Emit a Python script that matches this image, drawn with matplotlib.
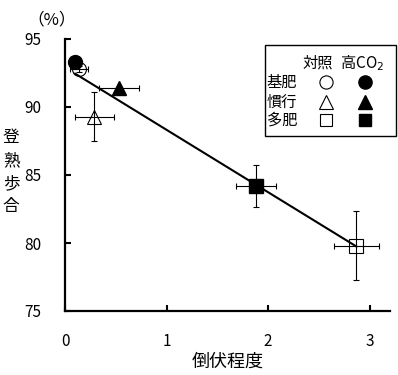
import matplotlib
matplotlib.use("Agg")
import matplotlib.lines
import matplotlib.patches
import matplotlib.pyplot as plt
import numpy as np

plt.rcParams["font.family"] = ["Noto Sans CJK JP", "DejaVu Sans"]

# lodging score (x) vs ripening ratio (y), mean +- error
groups = ["基肥", "慣行", "多肥"]
ctrl_x = [0.14, 0.29, 2.87]
ctrl_y = [92.8, 89.3, 79.8]
ctrl_xerr = [0.09, 0.19, 0.22]
ctrl_yerr = [0.25, 1.8, 2.55]
co2_x = [0.10, 0.53, 1.88]
co2_y = [93.3, 91.4, 84.2]
co2_xerr = [0.0, 0.2, 0.2]
co2_yerr = [0.0, 0.0, 1.55]
markers = ["o", "^", "s"]
msizes = [10, 10, 9.5]

xticks = [0, 1, 2, 3]
yticks = [75, 80, 85, 90, 95]

fig = plt.figure(figsize=(3.98, 3.75), dpi=100)
ax = fig.add_axes([65 / 398, 1 - 311 / 375, 325 / 398, 272 / 375])

for i in range(3):
    ax.errorbar(ctrl_x[i], ctrl_y[i], xerr=ctrl_xerr[i], yerr=ctrl_yerr[i],
                fmt="none", ecolor="black", elinewidth=0.8, capsize=2.5,
                capthick=0.8, zorder=2)
    if co2_xerr[i] or co2_yerr[i]:
        ax.errorbar(co2_x[i], co2_y[i], xerr=co2_xerr[i] or None,
                    yerr=co2_yerr[i] or None, fmt="none", ecolor="black",
                    elinewidth=0.8, capsize=2.5, capthick=0.8, zorder=2)

# regression line over all points
all_x = np.array(ctrl_x + co2_x)
all_y = np.array(ctrl_y + co2_y)
slope, icpt = np.polyfit(all_x, all_y, 1)
fx = np.array([all_x.min(), all_x.max()])
ax.plot(fx, slope * fx + icpt, color="black", lw=1.5, zorder=3)

for i in range(3):
    ax.plot(ctrl_x[i], ctrl_y[i], marker=markers[i], ms=msizes[i],
            mfc="none", mec="black", mew=0.8, ls="none", zorder=4)
    ax.plot(co2_x[i], co2_y[i], marker=markers[i], ms=msizes[i],
            mfc="black", mec="black", ls="none", zorder=5)

ax.set_xlim(0, 3.2)
ax.set_ylim(75, 95)
ax.set_xticks(xticks)
ax.set_yticks(yticks)
ax.spines["top"].set_visible(False)
ax.spines["right"].set_visible(False)
for s in ["left", "bottom"]:
    ax.spines[s].set_linewidth(1.6)
ax.tick_params(direction="in", length=4, width=1.5, labelsize=11)
ax.tick_params(axis="y", pad=17)
ax.tick_params(axis="x", pad=16)

ax.set_xlabel("倒伏程度", fontsize=13, labelpad=2)
fig.text(11 / 398, 1 - 172 / 375, "\n".join("登熟歩合"), fontsize=12,
         ha="center", va="center", linespacing=1.45)
fig.text(52 / 398, 1 - 20 / 375, "（%）", fontsize=12, ha="center", va="center")

# legend box
fig.add_artist(matplotlib.patches.Rectangle(
    (265 / 398, 1 - 136 / 375), 131 / 398, 91 / 375,
    transform=fig.transFigure, fill=False, ec="black", lw=1))
fig.text(318 / 398, 1 - 63 / 375, "対照", fontsize=11, ha="center", va="center")
fig.text(362 / 398, 1 - 63 / 375, "高CO$_2$", fontsize=11, ha="center", va="center")
row_y = [82, 102, 120]
for i, g in enumerate(groups):
    yy = 1 - row_y[i] / 375
    fig.text(282 / 398, yy, g, fontsize=11, ha="center", va="center")
    fig.add_artist(matplotlib.lines.Line2D(
        [326 / 398], [yy], marker=markers[i], ms=msizes[i] * 0.95,
        mfc="white", mec="black", mew=0.8, transform=fig.transFigure))
    fig.add_artist(matplotlib.lines.Line2D(
        [365 / 398], [yy], marker=markers[i], ms=msizes[i] * 0.95,
        mfc="black", mec="black", transform=fig.transFigure))

fig.savefig("out.png", dpi=100)
